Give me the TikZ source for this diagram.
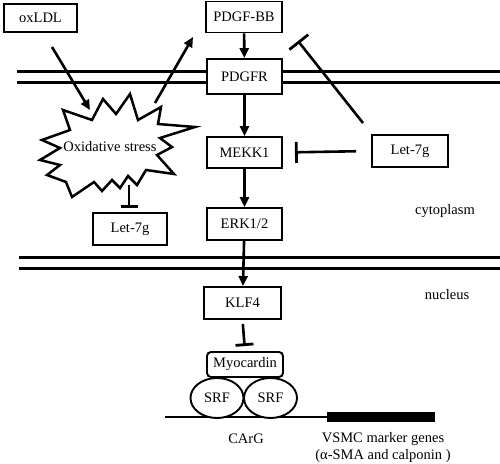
\documentclass[tikz,border=0pt]{standalone}
\usepackage{fontspec}
\setmainfont{Liberation Serif}
\usetikzlibrary{arrows.meta,shapes.geometric}
\begin{document}
\begin{tikzpicture}[x=1pt,y=-1pt,
  box/.style={draw,line width=1.9pt,fill=white,minimum width=#1,minimum height=31pt,inner sep=0pt,font=\fontsize{14.5}{17}\selectfont},
  box/.default=75pt,
  lbl/.style={font=\fontsize{14.5}{17}\selectfont,inner sep=0pt},
  act/.style={line width=2.6pt,-{Triangle[length=10pt,width=9pt]}},
  inh/.style={line width=2.6pt,-{Bar[width=#1,line width=2.8pt]}},
  inh/.default=20pt,
  mem/.style={line width=3pt},
  srf/.style={draw,line width=1.9pt,fill=white,ellipse,minimum width=53pt,minimum height=40pt,inner sep=0pt,font=\fontsize{14.5}{17}\selectfont}
]
\useasboundingbox (0,0) rectangle (500,463);
% membranes
\draw[mem] (17,71) -- (500,71);
\draw[mem] (17,82) -- (500,82);
\draw[mem] (19,257) -- (500,257);
\draw[mem] (19,268.5) -- (500,268.5);
% starburst
\draw[line width=2.5pt,fill=white,line join=miter] (42,140) -- (60,148) -- (40,160) -- (60,165) -- (47,175) -- (66,182)
  -- (72,197) -- (94,182) -- (102,191) -- (112,180) -- (120,188) -- (128,176) -- (137,185) -- (146,170)
  -- (174,174) -- (157,155) -- (172,147) -- (160,138) -- (195,127) -- (158,124) -- (161,107) -- (138,120)
  -- (130,94) -- (116,114) -- (103,99) -- (92,120) -- (63,110) -- (70,130) -- cycle;
\node[lbl] (ox) at (110,147) {Oxidative stress};
% boxes
\node[box=73pt,minimum height=28pt] (ldl) at (40.5,18) {oxLDL};
\node[box=76pt] (pdgf) at (244,17) {PDGF-BB};
\node[box,minimum height=35pt] (pdgfr) at (244.5,76.5) {PDGFR};
\node[box] (mekk) at (244.5,152.5) {MEKK1};
\node[box,minimum height=32pt] (erk) at (244.5,224) {ERK1/2};
\node[box=76pt,minimum height=32pt] (letR) at (410,151) {Let-7g};
\node[box=74pt,minimum height=32pt] (letL) at (130,229) {Let-7g};
\node[box=77pt,minimum height=32pt] (klf) at (242.5,303) {KLF4};
\node[box=76pt,minimum height=25pt,rounded corners=4pt] (myo) at (245,364.5) {Myocardin};
% DNA
\coordinate (dnaA) at (165,417);
\coordinate (dnaB) at (327,417);
\coordinate (dnaC) at (435,417);
\draw[line width=2.6pt] (dnaA) -- (dnaB);
\draw[line width=10pt] (dnaB) -- (dnaC);
\node[srf] (srf1) at (217,398) {SRF};
\node[srf] (srf2) at (270.5,398) {SRF};
% texts
\node[lbl] (cyto) at (445,211) {cytoplasm};
\node[lbl] (nuc) at (447,295) {nucleus};
\node[lbl] (carg) at (246,439) {CArG};
\node[lbl] (vsmc) at (383,439) {VSMC marker genes};
\node[lbl] (vsmc2) at (383,456) {(α-SMA and calponin )};
% arrows
\draw[act] (pdgf) -- (pdgfr);
\draw[act] (pdgfr) -- (mekk);
\draw[act] (mekk) -- (erk);
\draw[act] (erk) -- (klf);
\coordinate (a1) at (52,47);
\coordinate (a2) at (90,110);
\draw[act] (a1) -- (a2);
\coordinate (b1) at (155,103);
\coordinate (b2) at (193,37);
\draw[act] (b1) -- (b2);
% inhibitions
\draw[inh=21pt,shorten <=15pt,shorten >=12pt] (letR.west) -- (mekk.east);
\coordinate (c1) at (363,123);
\coordinate (c2) at (298,41);
\draw[inh=24pt] (c1) -- (c2);
\coordinate (d1) at (129,185);
\coordinate (d2) at (129,208);
\draw[inh=17pt] (d1) -- (d2);
\draw[inh=18pt,shorten <=4pt,shorten >=5pt] (klf.south) -- (myo.north);
\end{tikzpicture}
\end{document}
